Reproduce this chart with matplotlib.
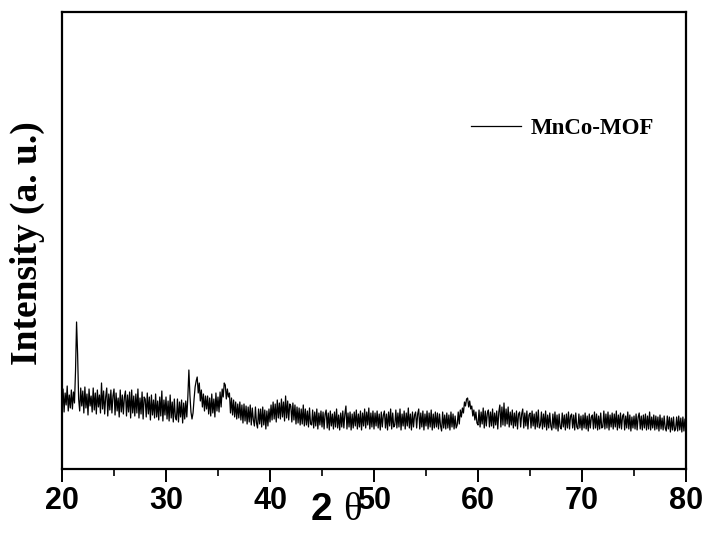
import numpy as np
import matplotlib
matplotlib.use("Agg")
import matplotlib.pyplot as plt

# 2-theta grid (step 0.1 deg) and intensity (a.u.)
two_theta = np.linspace(20, 80, 601)
intensity = [
    62, 80, 57, 76, 64, 83, 58, 74, 61, 79,   # 20
    60, 77, 66, 98, 147, 115, 70, 58, 81, 63,  # 21
    78, 56, 82, 61, 75, 54, 80, 63, 73, 57,   # 22
    81, 59, 76, 55, 79, 62, 74, 56, 86, 60,   # 23
    78, 55, 72, 81, 53, 75, 59, 79, 56, 73,   # 24
    80, 54, 76, 58, 71, 52, 79, 57, 74, 55,   # 25
    72, 78, 53, 74, 57, 77, 51, 79, 56, 73,   # 26
    53, 75, 56, 80, 51, 71, 55, 77, 50, 72,   # 27
    70, 52, 76, 55, 72, 49, 74, 54, 69, 51,   # 28
    75, 52, 68, 49, 72, 53, 78, 48, 69, 54,   # 29
    72, 50, 68, 48, 74, 51, 67, 47, 70, 52,   # 30
    49, 70, 47, 67, 52, 69, 46, 66, 50, 68,   # 31
    52, 72, 99, 74, 57, 50, 56, 70, 82, 88,   # 32
    92, 76, 86, 68, 79, 62, 75, 58, 73, 60,   # 33
    73, 55, 71, 53, 75, 56, 70, 52, 76, 58,   # 34
    72, 57, 77, 62, 80, 72, 86, 84, 70, 80,   # 35
    72, 76, 56, 71, 54, 69, 52, 67, 50, 65,   # 36
    51, 67, 49, 64, 46, 65, 48, 63, 45, 62,   # 37
    47, 64, 44, 61, 49, 43, 62, 46, 41, 60,   # 38
    45, 60, 42, 62, 44, 59, 40, 58, 43, 60,   # 39
    47, 64, 49, 67, 50, 65, 47, 69, 51, 66,   # 40
    50, 70, 52, 67, 48, 73, 51, 68, 49, 65,   # 41
    63, 47, 66, 49, 64, 45, 62, 46, 61, 44,   # 42
    60, 45, 64, 43, 60, 44, 58, 42, 61, 45,   # 43
    44, 59, 41, 57, 43, 60, 40, 56, 44, 58,   # 44
    42, 57, 40, 55, 59, 41, 56, 39, 58, 43,   # 45
    55, 40, 57, 42, 60, 41, 54, 39, 56, 42,   # 46
    58, 41, 55, 63, 40, 56, 42, 57, 39, 55,   # 47
    41, 57, 43, 59, 40, 55, 42, 58, 39, 56,   # 48
    43, 60, 41, 57, 44, 61, 40, 56, 42, 58,   # 49
    40, 56, 43, 58, 41, 55, 39, 57, 42, 54,   # 50
    58, 41, 55, 39, 57, 43, 60, 40, 56, 42,   # 51
    44, 59, 41, 56, 42, 60, 39, 55, 43, 58,   # 52
    40, 56, 43, 61, 41, 55, 39, 57, 42, 54,   # 53
    57, 41, 55, 60, 40, 56, 42, 58, 39, 55,   # 54
    43, 58, 40, 56, 42, 59, 39, 55, 41, 57,   # 55
    42, 56, 40, 55, 43, 38, 57, 41, 54, 40,   # 56
    56, 41, 54, 39, 57, 42, 55, 40, 53, 41,   # 57
    44, 57, 45, 59, 52, 61, 56, 67, 63, 70,   # 58
    71, 62, 68, 60, 63, 53, 59, 49, 57, 46,   # 59
    44, 59, 42, 57, 45, 61, 41, 58, 43, 56,   # 60
    59, 42, 57, 43, 60, 41, 56, 44, 58, 40,   # 61
    57, 64, 42, 62, 44, 66, 43, 60, 45, 62,   # 62
    42, 57, 44, 59, 41, 56, 43, 58, 40, 55,   # 63
    57, 42, 55, 60, 41, 56, 43, 58, 40, 54,   # 64
    56, 41, 58, 43, 55, 40, 57, 42, 59, 41,   # 65
    44, 57, 40, 55, 42, 58, 39, 54, 41, 56,   # 66
    43, 39, 55, 41, 57, 40, 54, 38, 55, 42,   # 67
    40, 56, 42, 54, 39, 55, 41, 57, 40, 53,   # 68
    55, 41, 54, 39, 56, 42, 40, 55, 41, 53,   # 69
    39, 54, 41, 56, 40, 53, 38, 55, 41, 52,   # 70
    54, 40, 57, 41, 55, 39, 53, 40, 56, 41,   # 71
    42, 58, 40, 55, 41, 57, 39, 54, 42, 56,   # 72
    40, 55, 42, 58, 39, 54, 41, 56, 40, 53,   # 73
    55, 39, 53, 41, 57, 40, 54, 38, 52, 41,   # 74
    53, 40, 55, 39, 52, 56, 40, 53, 39, 54,   # 75
    41, 55, 39, 53, 40, 57, 39, 52, 41, 54,   # 76
    39, 53, 40, 52, 38, 54, 40, 51, 39, 53,   # 77
    41, 38, 53, 40, 52, 37, 51, 39, 52, 38,   # 78
    40, 52, 38, 53, 39, 51, 37, 52, 38, 50,   # 79
    44,                                       # 80
]
series_label = "MnCo-MOF"
x_ticks = [20, 30, 40, 50, 60, 70, 80]
x_minor = [25, 35, 45, 55, 65, 75]

fig = plt.figure(figsize=(7.06, 5.33), dpi=100)
ax = fig.add_axes([62/706, 64/533, 624/706, 457/533])

ax.plot(two_theta, intensity, color="black", lw=0.9, label=series_label)
ax.set_xlim(20, 80)
ax.set_ylim(0, 457)

ax.set_xticks(x_ticks)
ax.set_xticks(x_minor, minor=True)
ax.set_yticks([])
ax.tick_params(axis="x", which="major", length=9, width=1.4, direction="out")
ax.tick_params(axis="x", which="minor", length=5, width=1.2, direction="out")
for lab in ax.get_xticklabels():
    lab.set_fontfamily(["Liberation Sans Narrow", "Liberation Sans", "DejaVu Sans"])
    lab.set_fontweight("bold")
    lab.set_fontsize(22)
for s in ax.spines.values():
    s.set_linewidth(1.6)

fig.text(27/706, 1 - 243/533, "Intensity (a. u.)", rotation=90,
         ha="center", va="center", fontsize=27, fontweight="bold",
         family=["Liberation Serif", "DejaVu Serif"])

fig.text(321/706, 1 - 510/533, "2", ha="center", va="center", fontsize=28,
         fontweight="bold", family=["Liberation Sans", "DejaVu Sans"])
fig.text(352/706, 1 - 510/533, "θ", ha="center", va="center", fontsize=28,
         family=["Liberation Serif", "DejaVu Serif"])

leg = ax.legend(loc="center left", bbox_to_anchor=(0.655, 0.746), frameon=False,
                handlelength=2.2, handletextpad=0.4, borderaxespad=0, borderpad=0,
                prop={"family": ["Liberation Serif", "DejaVu Serif"],
                      "weight": "bold", "size": 16.5})

fig.savefig("out.png", dpi=100)
